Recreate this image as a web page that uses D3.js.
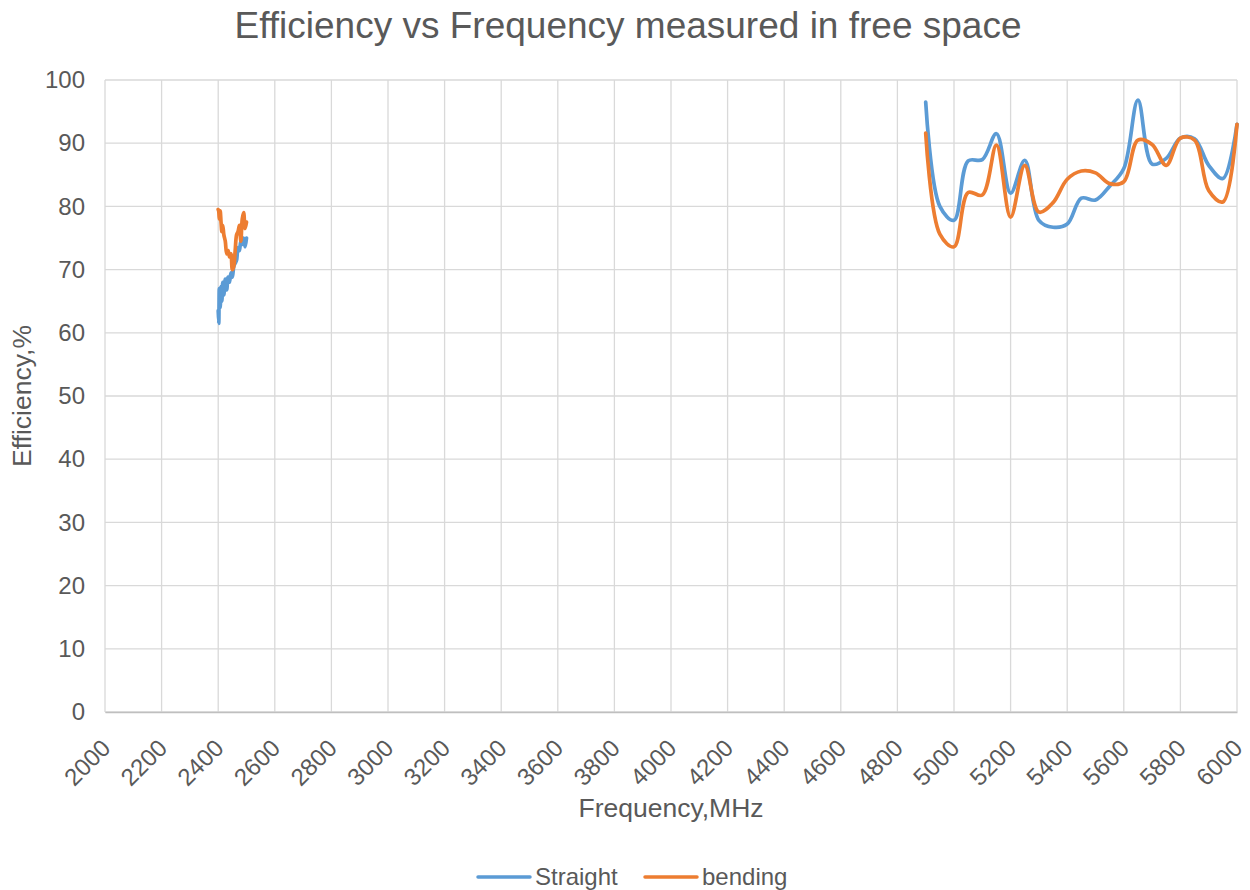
<!DOCTYPE html>
<html>
<head>
<meta charset="utf-8">
<script src="https://cdn.jsdelivr.net/npm/d3@7"></script>
<style>
  html, body { margin: 0; padding: 0; background: #fff; }
  text { font-family: "Liberation Sans", Arial, sans-serif; fill: #595959; }
</style>
</head>
<body>
<svg id="chart" width="1250" height="890"></svg>
<script>
// ---- data ----
const xTicks = [2000,2200,2400,2600,2800,3000,3200,3400,3600,3800,4000,4200,4400,4600,4800,5000,5200,5400,5600,5800,6000];
const yTicks = [0,10,20,30,40,50,60,70,80,90,100];

const lowFreq      = [2400,2402,2404,2407,2410,2413,2416,2420,2425,2430,2435,2440,2445,2450,2455,2460,2465,2470,2475,2480,2485,2490,2495,2500];
const straightLow  = [63.5,61.5,67,64,67.3,65,68,66,68.5,66.8,68.8,68,69.5,68.8,70.5,71,71.5,73.5,73,74.5,74,75,73.6,75];
const bendingLow   = [79.5,79.2,78,79.3,77.5,76,77,75.5,74.5,72.5,73,72,72.5,70,70.5,73,75.5,76,77,74.5,78,79,76.5,77.5];

const highFreq     = [4900,4950,5000,5050,5100,5150,5200,5250,5300,5350,5400,5450,5500,5550,5600,5650,5700,5750,5800,5850,5900,5950,6000];
const straightHigh = [96.5,80,77.8,87.2,87.4,91.5,82.1,87.3,77.8,76.7,77.2,81.3,81,83.2,86,96.8,86.7,87.6,90.8,90.7,86.5,84.4,93];
const bendingHigh  = [91.6,75.6,73.6,82.2,81.8,89.7,78.3,86.5,79.1,80.6,84.3,85.6,85.3,83.6,83.9,90.5,89.8,86.5,90.8,90.5,82.5,80.7,93];

const seriesNames = ["Straight", "bending"];
const colors = ["#5B9BD5", "#ED7D31"];

// ---- layout ----
const svg = d3.select("#chart");
const L = 105, R = 1237, T = 80, B = 712;

const x = d3.scaleLinear().domain([2000, 6000]).range([L, R]);
const y = d3.scaleLinear().domain([0, 100]).range([B, T]);

// gridlines
svg.append("g")
  .selectAll("line.h").data(yTicks).enter().append("line")
  .attr("x1", L).attr("x2", R)
  .attr("y1", d => y(d)).attr("y2", d => y(d))
  .attr("stroke", "#D9D9D9").attr("stroke-width", 1.3);
svg.append("g")
  .selectAll("line.v").data(xTicks).enter().append("line")
  .attr("x1", d => x(d)).attr("x2", d => x(d))
  .attr("y1", T).attr("y2", B)
  .attr("stroke", "#D9D9D9").attr("stroke-width", 1.3);

// x axis
const xAxis = svg.append("g").attr("transform", `translate(0,${B})`)
  .call(d3.axisBottom(x).tickValues(xTicks).tickSize(0).tickFormat(d3.format("d")));
xAxis.select(".domain").attr("stroke", "#BFBFBF").attr("stroke-width", 1.5);
xAxis.selectAll("text")
  .attr("font-size", 24)
  .attr("fill", "#595959")
  .style("text-anchor", "end")
  .attr("dy", null)
  .attr("y", 0)
  .attr("transform", "translate(2,33) rotate(-45)")
  .attr("dominant-baseline", "middle");

// y axis
const yAxis = svg.append("g").attr("transform", `translate(${L},0)`)
  .call(d3.axisLeft(y).tickValues(yTicks).tickSize(0).tickPadding(20));
yAxis.select(".domain").remove();
yAxis.selectAll("text").attr("font-size", 24).attr("fill", "#595959");

// lines
const line = d3.line()
  .x(d => x(d[0])).y(d => y(d[1]))
  .curve(d3.curveCatmullRom.alpha(0.5));

const bands = [
  [lowFreq, [straightLow, bendingLow]],
  [highFreq, [straightHigh, bendingHigh]]
];
seriesNames.forEach((name, si) => {
  bands.forEach(([freq, vals]) => {
    const pts = freq.map((f, i) => [f, vals[si][i]]);
    svg.append("path")
      .attr("d", line(pts))
      .attr("fill", "none")
      .attr("stroke", colors[si])
      .attr("stroke-width", 3.7)
      .attr("stroke-linejoin", "round")
      .attr("stroke-linecap", "round");
  });
});

// title
svg.append("text")
  .attr("x", 628).attr("y", 38)
  .attr("text-anchor", "middle")
  .attr("font-size", 37)
  .text("Efficiency vs Frequency measured in free space");

// axis titles
svg.append("text")
  .attr("x", 671).attr("y", 817)
  .attr("text-anchor", "middle")
  .attr("font-size", 26.5)
  .text("Frequency,MHz");
svg.append("text")
  .attr("transform", "translate(31,396) rotate(-90)")
  .attr("text-anchor", "middle")
  .attr("font-size", 26.5)
  .text("Efficiency,%");

// legend
const legendX = [478, 645];
seriesNames.forEach((name, i) => {
  svg.append("line")
    .attr("x1", legendX[i]).attr("x2", legendX[i] + 52)
    .attr("y1", 877).attr("y2", 877)
    .attr("stroke", colors[i]).attr("stroke-width", 3.5)
    .attr("stroke-linecap", "round");
  svg.append("text")
    .attr("x", legendX[i] + 57).attr("y", 885)
    .attr("font-size", 24)
    .text(name);
});
</script>
</body>
</html>
